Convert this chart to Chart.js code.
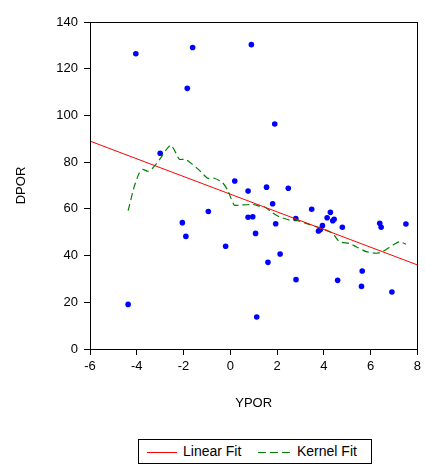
<!DOCTYPE html>
<html>
<head>
<meta charset="utf-8">
<script src="https://cdn.jsdelivr.net/npm/chart.js@4.4.1/dist/chart.umd.min.js"></script>
<style>
  body { margin: 0; background: #fff; }
  #wrap { position: relative; width: 425px; height: 464px; }
  #legend {
    position: absolute; left: 138px; top: 439px; width: 232px; height: 23px;
    border: 1px solid #000; background: #fff;
    font: 14px "Liberation Sans", Arial, sans-serif; color: #000;
  }
  #legend span { position: absolute; line-height: 23px; top: 0; white-space: nowrap; }
  #legend i { position: absolute; top: 12px; height: 1px; }
</style>
</head>
<body>
<div id="wrap">
  <canvas id="chart" width="425" height="464"></canvas>
  <div id="legend">
    <i style="left:8px;width:30px;background:#ff0000"></i>
    <span style="left:44px">Linear Fit</span>
    <i style="left:119px;width:35px;background:repeating-linear-gradient(90deg,#008000 0 8px,transparent 8px 12px)"></i>
    <span style="left:158px">Kernel Fit</span>
  </div>
</div>
<script>
// scatter observations (YPOR, DPOR)
const scatterX = [-4.37, -4.04, -3.00, -2.05, -1.90, -1.84, -1.61, -0.94, -0.20, 0.19,
  0.76, 0.76, 0.90, 0.96, 1.08, 1.13, 1.55, 1.61, 1.81, 1.90,
  1.94, 2.13, 2.48, 2.80, 2.81, 3.48, 3.77, 3.85, 3.94, 4.14,
  4.28, 4.38, 4.44, 4.59, 4.79, 5.61, 5.64, 6.39, 6.45, 6.91, 7.51];
const scatterY = [19.1, 126.4, 83.8, 54.1, 48.2, 111.6, 129.1, 58.9, 44.0, 71.9,
  67.6, 56.4, 130.3, 56.6, 49.5, 13.7, 69.3, 37.1, 62.2, 96.3,
  53.6, 40.7, 68.8, 55.9, 29.7, 59.8, 50.5, 51.2, 52.8, 56.2,
  58.5, 54.9, 55.5, 29.4, 52.1, 26.8, 33.4, 53.8, 52.1, 24.4, 53.5];

// linear fit end points
const linearX = [-6, 8];
const linearY = [89.0, 36.0];

// kernel fit curve
const kernelX = [-4.37, -4.11, -3.90, -3.75, -3.54, -3.40, -3.04, -2.75, -2.54, -2.32,
  -2.18, -1.93, -1.76, -1.33, -0.97, -0.68, -0.33, -0.12, 0.17, 0.39,
  0.95, 1.24, 1.46, 1.81, 2.10, 2.53, 2.81, 3.24, 3.67, 4.10,
  4.38, 4.67, 5.09, 5.38, 5.81, 6.24, 6.52, 6.95, 7.24, 7.51];
const kernelY = [59.2, 69.5, 75.2, 76.9, 76.1, 76.6, 80.9, 85.2, 87.3, 83.8,
  81.2, 81.2, 80.2, 76.6, 73.1, 73.1, 71.2, 68.1, 61.6, 61.6,
  61.9, 61.2, 60.9, 58.3, 56.6, 55.2, 55.2, 53.8, 52.4, 50.9,
  49.5, 45.9, 45.2, 43.8, 41.7, 41.0, 41.7, 44.5, 45.9, 44.9];

const xTicks = [-6, -4, -2, 0, 2, 4, 6, 8];
const yTicks = [0, 20, 40, 60, 80, 100, 120, 140];

const pts = (xs, ys) => xs.map((x, i) => ({ x: x, y: ys[i] }));
const font = { family: "'Liberation Sans', Arial, sans-serif", size: 13 };

const frame = {
  id: "frame",
  afterDatasetsDraw(chart) {
    const { ctx, chartArea: a } = chart;
    ctx.save();
    ctx.strokeStyle = "#000";
    ctx.lineWidth = 1;
    ctx.strokeRect(Math.round(a.left) + 0.5, Math.round(a.top) + 0.5,
      Math.round(a.right - a.left), Math.round(a.bottom - a.top));
    ctx.restore();
  }
};

new Chart(document.getElementById("chart"), {
  type: "scatter",
  data: {
    datasets: [
      {
        label: "Linear Fit",
        data: pts(linearX, linearY),
        showLine: true,
        borderColor: "#ff0000",
        borderWidth: 1,
        pointRadius: 0
      },
      {
        label: "Kernel Fit",
        data: pts(kernelX, kernelY),
        showLine: true,
        borderColor: "#008000",
        borderWidth: 1.2,
        borderDash: [7, 4],
        tension: 0.2,
        pointRadius: 0
      },
      {
        label: "DPOR",
        data: pts(scatterX, scatterY),
        backgroundColor: "#0000ff",
        borderWidth: 0,
        pointRadius: 2.8
      }
    ]
  },
  options: {
    responsive: false,
    animation: false,
    devicePixelRatio: 1,
    layout: { padding: { left: 5, top: 22, right: 7, bottom: 30 } },
    plugins: { legend: { display: false }, tooltip: { enabled: false } },
    scales: {
      x: {
        type: "linear", min: -6, max: 8,
        afterBuildTicks: s => { s.ticks = xTicks.map(v => ({ value: v })); },
        afterFit: s => { s.height = 85; },
        ticks: { color: "#000", font: font, padding: 4, maxRotation: 0 },
        grid: { drawOnChartArea: false, drawTicks: true, tickLength: 6, color: "#000" },
        border: { display: false },
        title: { display: true, text: "YPOR", color: "#000", font: font, padding: { top: 0, bottom: 23 } }
      },
      y: {
        type: "linear", min: 0, max: 140,
        afterBuildTicks: s => { s.ticks = yTicks.map(v => ({ value: v })); },
        afterFit: s => { s.width = 85; },
        ticks: { color: "#000", font: font, padding: 6 },
        grid: { drawOnChartArea: false, drawTicks: true, tickLength: 6, color: "#000" },
        border: { display: false },
        title: { display: true, text: "DPOR", color: "#000", font: font, padding: { top: 9, bottom: 0 } }
      }
    }
  },
  plugins: [frame]
});
</script>
</body>
</html>
